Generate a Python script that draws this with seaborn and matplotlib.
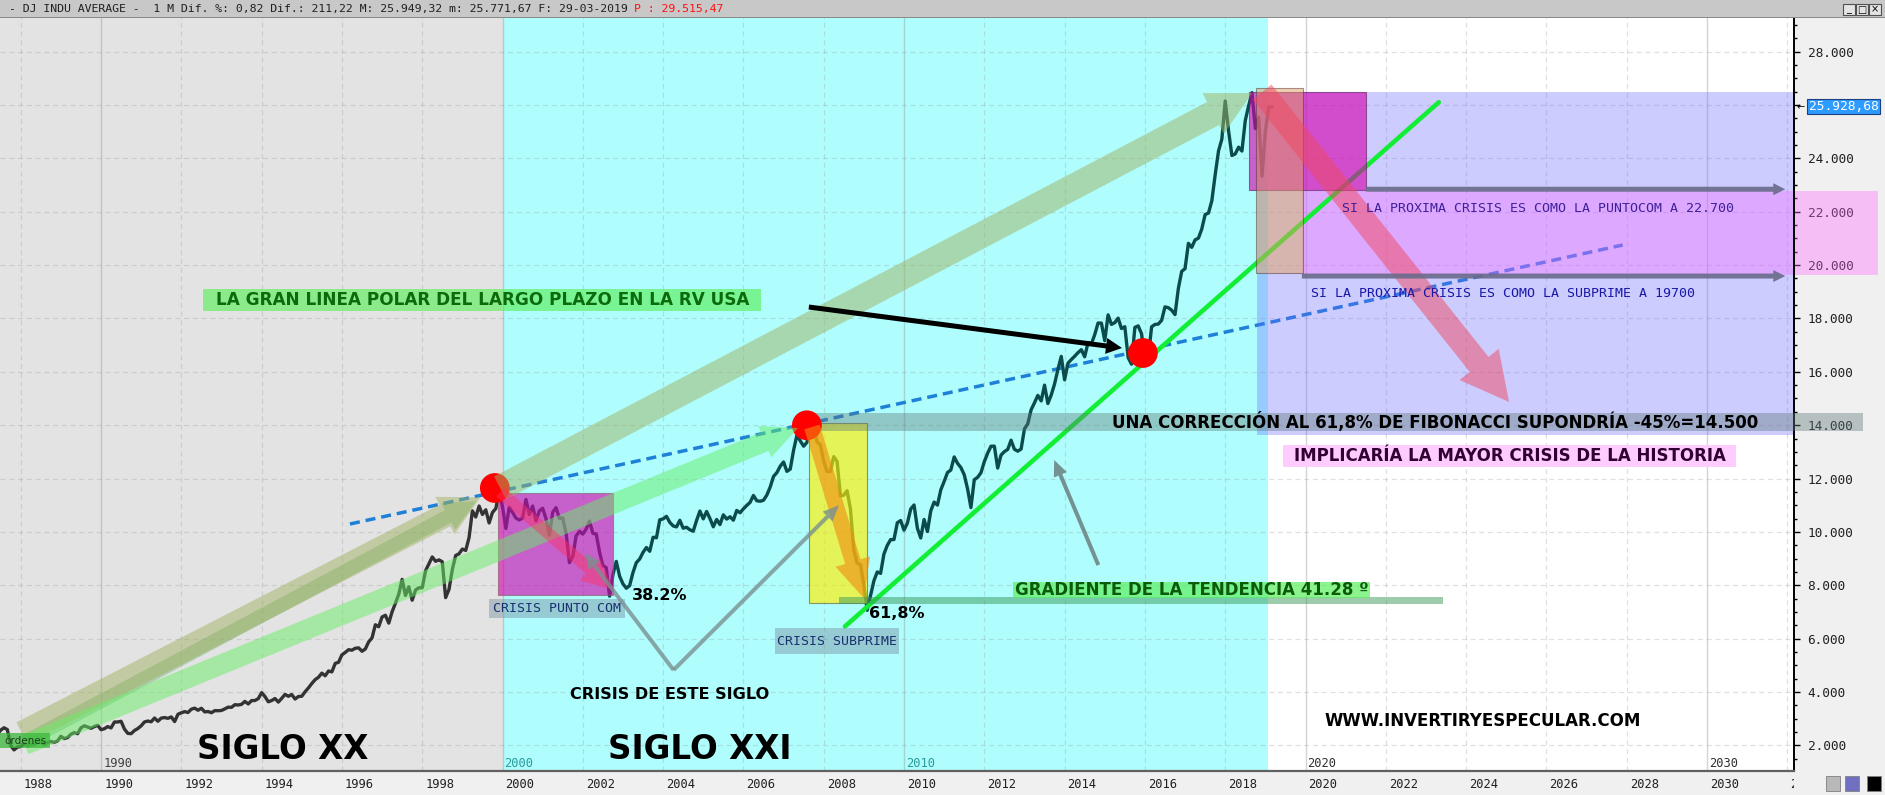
import numpy as np
import pandas as pd
import matplotlib
matplotlib.use("Agg")
import matplotlib.pyplot as plt
import seaborn as sns
from matplotlib.patches import Rectangle, FancyArrowPatch
from matplotlib.transforms import Bbox, ScaledTranslation

# DJIA monthly closes, june 1987 -> march 2019
first_month = 1987 + 5 / 12
djia_close = [
    2419, 2572, 2663, 2596, 1994, 1834, 1939,
    1958, 2072, 1988, 2032, 2031, 2142, 2129, 2032, 2113, 2149, 2115, 2169,
    2342, 2258, 2294, 2419, 2480, 2440, 2661, 2737, 2693, 2645, 2706, 2753,
    2591, 2627, 2707, 2657, 2877, 2881, 2905, 2614, 2453, 2442, 2560, 2634,
    2736, 2882, 2914, 2888, 3028, 2907, 3025, 3044, 3017, 3069, 2895, 3169,
    3224, 3267, 3236, 3359, 3397, 3319, 3394, 3257, 3272, 3226, 3305, 3301,
    3310, 3370, 3435, 3428, 3527, 3516, 3540, 3651, 3555, 3681, 3684, 3754,
    3978, 3832, 3636, 3682, 3758, 3625, 3765, 3913, 3843, 3908, 3739, 3834,
    3844, 4011, 4158, 4321, 4465, 4556, 4709, 4611, 4789, 4756, 5075, 5117,
    5395, 5486, 5588, 5569, 5643, 5655, 5529, 5616, 5882, 6029, 6522, 6448,
    6813, 6878, 6584, 7009, 7331, 7673, 8223, 7622, 7945, 7442, 7823, 7908,
    7907, 8546, 8800, 9063, 8900, 8952, 8883, 7539, 7843, 8592, 9117, 9181,
    9359, 9307, 9786, 10789, 10560, 10971, 10655, 10829, 10337, 10729, 10878, 11497,
    10941, 10128, 10922, 10734, 10522, 10448, 10522, 11215, 10651, 10971, 10415, 10788,
    10887, 10495, 9879, 10735, 10912, 10502, 10523, 9950, 8848, 9075, 9852, 10022,
    9920, 10106, 10404, 9946, 9925, 9243, 8737, 8664, 7592, 8397, 8896, 8342,
    8054, 7891, 7992, 8480, 8850, 8985, 9234, 9416, 9275, 9801, 9782, 10454,
    10488, 10584, 10358, 10226, 10188, 10435, 10140, 10174, 10080, 10027, 10428, 10783,
    10490, 10766, 10504, 10193, 10467, 10275, 10641, 10482, 10569, 10440, 10806, 10718,
    10865, 10993, 11109, 11367, 11168, 11150, 11186, 11381, 11679, 12081, 12222, 12463,
    12622, 12269, 12354, 13063, 13628, 13409, 13212, 13358, 13896, 13930, 13372, 13265,
    12650, 12266, 12263, 12820, 12638, 11350, 11378, 11544, 10851, 9325, 8829, 8776,
    8001, 7063, 7609, 8168, 8500, 8447, 9172, 9496, 9712, 9713, 10345, 10428,
    10067, 10325, 10857, 11009, 10137, 9774, 10466, 10015, 10788, 11118, 11006, 11578,
    11892, 12226, 12320, 12811, 12570, 12414, 12143, 11614, 10913, 11955, 12046, 12218,
    12633, 12952, 13212, 13214, 12393, 12880, 13009, 13091, 13437, 13096, 13026, 13104,
    13861, 14054, 14579, 14840, 15116, 14910, 15500, 14810, 15130, 15546, 16086, 16577,
    15699, 16322, 16458, 16581, 16717, 16827, 16563, 17098, 17043, 17391, 17828, 17823,
    17165, 18133, 17776, 17841, 18011, 17620, 17690, 16528, 16285, 17664, 17720, 17425,
    16466, 16517, 17685, 17774, 17787, 17930, 18432, 18401, 18308, 18142, 19124, 19763,
    19864, 20812, 20663, 20941, 21009, 21350, 21891, 21948, 22405, 23377, 24272, 24719,
    26149, 25029, 24103, 24163, 24416, 24271, 25415, 25965, 26458, 25116, 25538, 23327,
    24999, 25916, 25929,
]
last_price = 25928.68

ytick_values = list(range(2000, 28001, 2000))
# 26.000 sits under the last-price tag in the original
ytick_labels = ["" if v == 26000 else f"{v // 1000}.000" for v in ytick_values]
xtick_years = list(range(1988, 2033, 2))
decade_years = [1990, 2000, 2010, 2020, 2030]
decade_colors = ["#404040", "#2a9c9c", "#2a9c9c", "#303030", "#303030"]

dot_years = [1999.81, 2007.58, 2015.95]
dot_values = [11646, 13995, 16704]

header_black = ("- DJ INDU AVERAGE -  1 M Dif. %: 0,82 Dif.: 211,22 "
                "M: 25.949,32 m: 25.771,67 F: 29-03-2019")
header_red = "P : 29.515,47"

W, H = 1885, 795
sns.set_style("white")
plt.rcParams["font.family"] = ["DejaVu Sans"]
MONO = "DejaVu Sans Mono"

fig = plt.figure(figsize=(W / 100, H / 100), dpi=100)
fig.patch.set_facecolor("#f0f0f0")
ax = fig.add_axes([0, 24 / H, 1794 / W, 754 / H])
ax.set_facecolor("white")
ax.set_xlim(1987.484, 2032.167)
ax.set_ylim(1043, 29293)

# periods
ax.axvspan(1987.0, 2000.0, color="#e3e3e3", lw=0, zorder=0)
ax.axvspan(2000.0, 2019.07, color="#b0fdfd", lw=0, zorder=0)

# grid
for yr in xtick_years:
    if yr % 10 == 0:
        ax.axvline(yr, color="#909090", lw=1, alpha=0.38, zorder=0.5)
    else:
        ax.axvline(yr, color="#909090", lw=0.9, alpha=0.27, ls=(0, (4, 3)), zorder=0.5)
for v in ytick_values:
    ax.axhline(v, color="#909090", lw=0.9, alpha=0.27, ls=(0, (4, 3)), zorder=0.5)


def rect(x0, x1, y0, y1, fc, alpha, z, ec="none", lw=0, clip=True):
    ax.add_patch(Rectangle((x0, y0), x1 - x0, y1 - y0, fc=fc, ec=ec, lw=lw,
                           alpha=alpha, zorder=z, clip_on=clip))


def fat_arrow(p0, p1, tail, head_w, head_l, color, alpha, z=4):
    k = 0.72  # pixels -> points
    style = (f"simple,tail_width={tail * k},head_width={head_w * k},"
             f"head_length={head_l * k}")
    ax.add_patch(FancyArrowPatch(p0, p1, arrowstyle=style, mutation_scale=1,
                                 fc=color, ec="none", lw=0, alpha=alpha,
                                 shrinkA=0, shrinkB=0, zorder=z))


def label_box(x0, x1, y0, y1, fc, alpha, text, color, size,
              weight="bold", family="DejaVu Sans"):
    rect(x0, x1, y0, y1, fc, alpha, 5)
    ax.text((x0 + x1) / 2, (y0 + y1) / 2, text, ha="center", va="center",
            color=color, fontsize=size, fontweight=weight, family=family, zorder=6)


# blue dashed polar line (under the forecast zone)
ax.plot([1996.2, 2027.9], [10297, 20750], ls=(0, (2.9, 1.7)), lw=2.5,
        color="#1f80d8", zorder=1.8)

# forecast zone
rect(2018.80, 2032.3, 13631, 26483, "#6666ff", 0.33, 2)
rect(2019.91, 2034.26, 19626, 22773, "#ff66ff", 0.35, 2.2, clip=False)

# DJIA line
t = first_month + np.arange(len(djia_close)) / 12
df = pd.DataFrame({"t": t, "close": djia_close})
old = df[df["t"] <= 2000.01]
new = df[df["t"] >= 1999.99]
sns.lineplot(data=old, x="t", y="close", ax=ax, color="#333333", linewidth=2.4,
             estimator=None, zorder=2.5)
sns.lineplot(data=new, x="t", y="close", ax=ax, color="#0b4b4b", linewidth=2.4,
             estimator=None, zorder=2.5)

# green trend line
ax.plot([2008.53, 2023.32], [6460, 26100], color="#11ee33", lw=3.3,
        solid_capstyle="round", zorder=2.7)

# crisis boxes
rect(1999.89, 2002.75, 7637, 11458, "#d500ab", 0.62, 3, ec="#806060", lw=0.8)
rect(2007.63, 2009.08, 7337, 14081, "#ffee00", 0.65, 3, ec="#606040", lw=0.8)
rect(2018.59, 2021.51, 22811, 26483, "#d500ab", 0.62, 3, ec="#602060", lw=0.8)
rect(2018.77, 2019.94, 19702, 26632, "#e0a060", 0.5, 3.1, ec="#503030", lw=0.8)
rect(2007.78, 2033.89, 13781, 14455, "#607878", 0.4, 3.2, clip=False)
rect(2008.38, 2023.42, 7300, 7561, "#3a9a5a", 0.5, 3.2)

# red dots
ax.scatter(dot_years, dot_values, s=460, color="#ff0000", edgecolors="none", zorder=3.5)

# big translucent arrows
fat_arrow((1988.10, 2130), (1999.35, 11150), 14, 30, 32, "#4ea04a", 0.35)
fat_arrow((1988.03, 2466), (1999.45, 11300), 24, 42, 40, "#a0b363", 0.5)
fat_arrow((1988.10, 2017), (2007.36, 13893), 20, 34, 36, "#66ee66", 0.5)
fat_arrow((1999.94, 11648), (2018.67, 26445), 26, 46, 44, "#a0b363", 0.5)
fat_arrow((2018.92, 26483), (2025.07, 14870), 24, 50, 48, "#f04860", 0.5)
fat_arrow((2007.71, 13934), (2009.00, 7523), 16, 36, 38, "#f08a10", 0.6)
fat_arrow((1999.94, 11496), (2002.78, 7824), 12, 30, 32, "#ff3060", 0.45)

# thin pointer arrows
fat_arrow((2004.26, 4827), (2002.05, 9210), 4, 14, 16, "#7a9090", 0.8)
fat_arrow((2004.26, 4827), (2008.38, 11000), 4, 14, 16, "#7a9090", 0.8)
fat_arrow((2014.84, 8760), (2013.74, 12694), 4, 14, 16, "#6a8080", 0.85)
fat_arrow((2007.63, 18427), (2015.43, 16891), 5, 16, 16, "black", 1.0, z=4.5)
fat_arrow((2021.51, 22840), (2031.95, 22840), 5, 12, 12, "#6a6a8a", 0.9)
fat_arrow((2019.91, 19587), (2031.95, 19587), 5, 12, 12, "#6a6a8a", 0.9)

# labels
label_box(1992.55, 2006.44, 18277, 19102, "#5cf05c", 0.65,
          "LA GRAN LINEA POLAR DEL LARGO PLAZO EN LA RV USA", "#0b6b0b", 12.2)
label_box(2012.71, 2021.61, 7524, 8124, "#5cf05c", 0.7,
          "GRADIENTE DE LA TENDENCIA 41.28 º", "#0b5b0b", 12)
label_box(2019.44, 2030.73, 12437, 13262, "#ffccff", 1.0,
          "IMPLICARÍA LA MAYOR CRISIS DE LA HISTORIA", "#330033", 12)
label_box(1999.66, 2003.05, 6774, 7486, "#7890a0", 0.45,
          "CRISIS PUNTO COM", "#1a3070", 9.5, weight="normal", family=MONO)
label_box(2006.79, 2009.88, 5410, 6384, "#7890a0", 0.45,
          "CRISIS SUBPRIME", "#1a3070", 9.5, weight="normal", family=MONO)
rect(1987.48, 1988.73, 1904, 2466, "#3cb83c", 0.75, 5)
ax.text(1987.60, 2185, "órdenes", ha="left", va="center", fontsize=7.5,
        color="#1c3c1c", zorder=6)

ax.text(2015.18, 14118, "UNA CORRECCIÓN AL 61,8% DE FIBONACCI SUPONDRÍA -45%=14.500",
        ha="left", va="center", fontsize=12, fontweight="bold", color="black", zorder=6)
ax.text(2020.91, 22136, "SI LA PROXIMA CRISIS ES COMO LA PUNTOCOM A 22.700",
        ha="left", va="center", fontsize=9.5, family=MONO, color="#40209a", zorder=6)
ax.text(2020.14, 18950, "SI LA PROXIMA CRISIS ES COMO LA SUBPRIME A 19700",
        ha="left", va="center", fontsize=9.5, family=MONO, color="#1818a8", zorder=6)
ax.text(2003.92, 7637, "38.2%", ha="center", va="center", fontsize=11.5,
        fontweight="bold", color="black", zorder=6)
ax.text(2009.83, 6926, "61,8%", ha="center", va="center", fontsize=11.5,
        fontweight="bold", color="black", zorder=6)
ax.text(2004.17, 3926, "CRISIS DE ESTE SIGLO", ha="center", va="center", fontsize=11.6,
        fontweight="bold", color="black", zorder=6)
ax.text(1994.53, 1866, "SIGLO XX", ha="center", va="center", fontsize=23.5,
        fontweight="bold", color="black", zorder=6)
ax.text(2004.92, 1866, "SIGLO XXI", ha="center", va="center", fontsize=23.5,
        fontweight="bold", color="black", zorder=6)
ax.text(2024.42, 2914, "WWW.INVERTIRYESPECULAR.COM", ha="center", va="center",
        fontsize=12, fontweight="bold", color="black", zorder=6)

# decade labels inside the plot
for yr, c in zip(decade_years, decade_colors):
    ax.text(yr, 0.0106, str(yr), transform=ax.get_xaxis_transform() +
            ScaledTranslation(2 / 100, 0, fig.dpi_scale_trans),
            ha="left", va="center", fontsize=8.7, family=MONO, color=c, zorder=6)

# axes styling
ax.set_xlabel("")
ax.set_ylabel("")
ax.grid(False)
for side in ["left", "top"]:
    ax.spines[side].set_visible(False)
ax.spines["right"].set_color("black")
ax.spines["right"].set_linewidth(1.4)
ax.spines["bottom"].set_color("#606060")
ax.spines["bottom"].set_linewidth(1.6)

ax.yaxis.tick_right()
ax.set_yticks(ytick_values)
ax.set_yticklabels(ytick_labels)
ax.set_yticks(np.arange(1500, 29001, 500), minor=True)
ax.tick_params(axis="y", which="major", direction="out", length=4, width=1,
               color="black", pad=5.8, labelsize=9.2, labelcolor="#202020")
ax.tick_params(axis="y", which="minor", direction="out", length=2.2, width=1,
               color="black")
for lab in ax.get_yticklabels():
    lab.set_fontfamily(MONO)

ax.set_xticks(xtick_years)
ax.set_xticklabels([])
ax.tick_params(axis="x", which="major", direction="out", length=6, width=1,
               color="#404040")
clip = Bbox([[0, 0], [1794, H]])
for yr in xtick_years:
    lab = ax.text(yr, 0, str(yr), transform=ax.get_xaxis_transform() +
                  ScaledTranslation(3 / 100, -7 / 100, fig.dpi_scale_trans),
                  ha="left", va="top", fontsize=8.7, family=MONO, color="#202020")
    lab.set_clip_box(clip)
    lab.set_clip_on(True)

# header bar
fig.add_artist(Rectangle((0, 1 - 17 / H), 1, 17 / H, transform=fig.transFigure,
                         fc="#c8c8c8", ec="none"))
fig.add_artist(Rectangle((0, 1 - 18 / H), 1, 1.2 / H, transform=fig.transFigure,
                         fc="#8a8a8a", ec="none"))
fig.text(9 / W, 1 - 9 / H, header_black, family=MONO, fontsize=8.25, va="center",
         color="#202020")
fig.text(634 / W, 1 - 9 / H, header_red, family=MONO, fontsize=8.25, va="center",
         color="#ff1010")
for i, g in enumerate(["_", "□", "×"]):
    x0 = 1843 + i * 13
    fig.add_artist(Rectangle((x0 / W, 1 - 15 / H), 12 / W, 11 / H,
                             transform=fig.transFigure, fc="#e4e4e4", ec="#505050", lw=0.8))
    fig.text((x0 + 6) / W, 1 - 9.5 / H, g, ha="center", va="center", fontsize=7,
             color="black")

# last price tag
fig.canvas.draw()
py = ax.transData.transform((2030, last_price))[1]
fig.add_artist(Rectangle((1807 / W, (py - 7.5) / H), 73 / W, 15 / H,
                         transform=fig.transFigure, fc="#2d9bff", ec="#1b3f7f", lw=0.8))
fig.text(1843.5 / W, py / H, f"{int(last_price):,}".replace(",", ".") + ",68",
         ha="center", va="center", family=MONO, fontsize=9.3, color="white")
fig.text(1801 / W, py / H, "←", ha="center", va="center", fontsize=7, color="black")

# bottom right icons
for x0, fc in [(1826, "#b8b8b8"), (1845, "#7070c0"), (1867, "black")]:
    fig.add_artist(Rectangle((x0 / W, 4 / H), 14 / W, 15 / H, transform=fig.transFigure,
                             fc=fc, ec="#808080", lw=0.6))

fig.savefig("out.png", dpi=100, facecolor=fig.get_facecolor())
